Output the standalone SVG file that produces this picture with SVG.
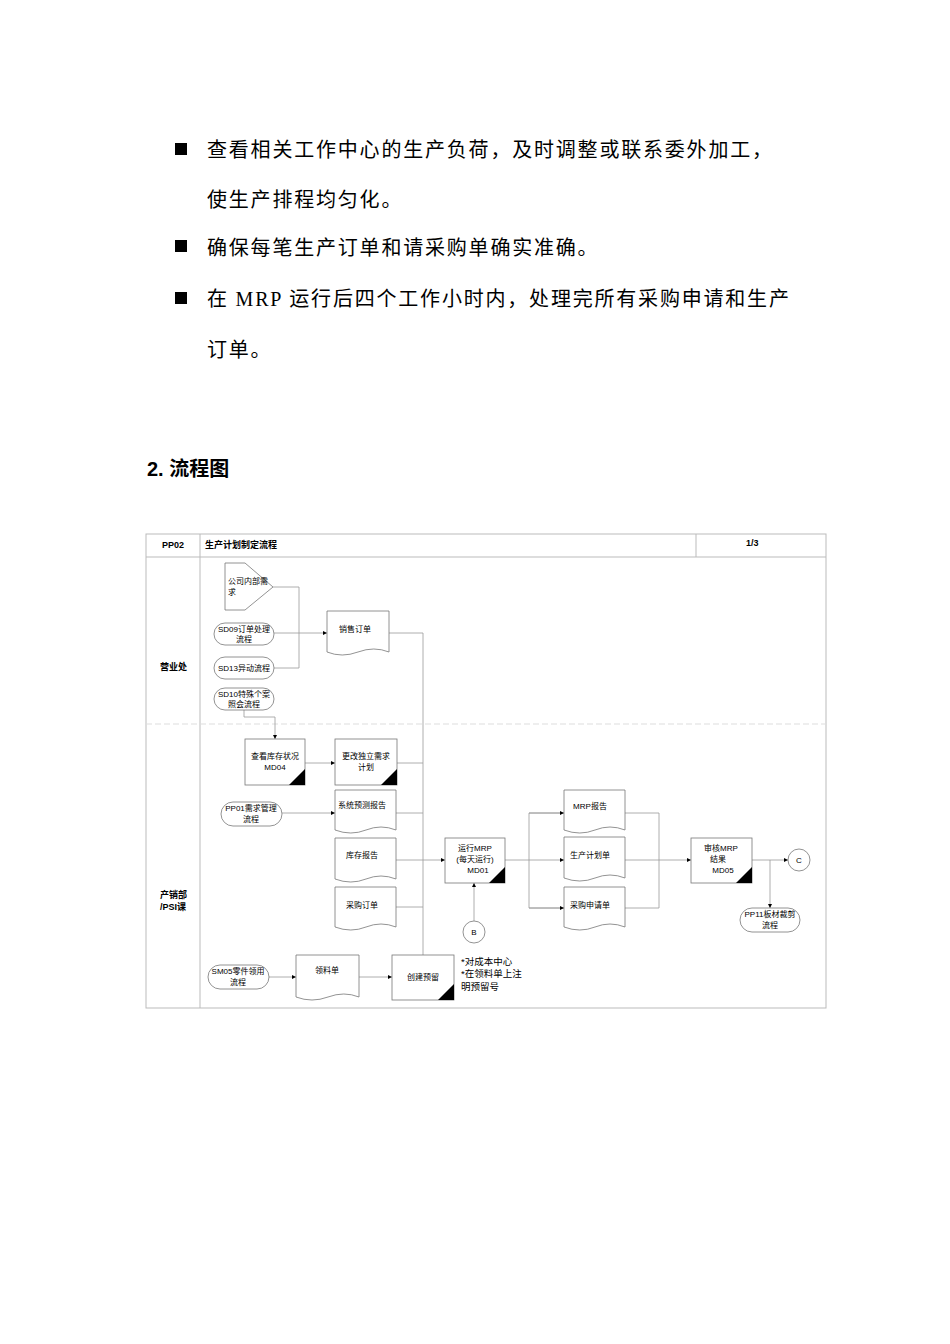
<svg xmlns="http://www.w3.org/2000/svg" width="950" height="1344" viewBox="0 0 950 1344">
<defs>
<marker id="ar" viewBox="0 0 6 6" refX="6" refY="3" markerWidth="5" markerHeight="5" orient="auto"><path d="M0,0L6,3L0,6z" fill="#000"/></marker>
<style>
.body{font-family:"Liberation Serif","Noto Sans CJK SC",serif;font-size:20px;letter-spacing:1.8px;fill:#000}
.t{font-family:"Liberation Sans","Noto Sans CJK SC",sans-serif;font-size:8px;fill:#000;text-anchor:middle}
.l{font-family:"Liberation Sans","Noto Sans CJK SC",sans-serif;font-size:8px;fill:#000;text-anchor:start}
.tb{font-family:"Liberation Sans","Noto Sans CJK SC",sans-serif;font-size:9px;font-weight:bold;fill:#000}
.s{fill:#fff;stroke:#777;stroke-width:0.8}
.c{fill:none;stroke:#999;stroke-width:0.8}
.ca{fill:none;stroke:#999;stroke-width:0.8;marker-end:url(#ar)}
.frame{fill:none;stroke:#bbb;stroke-width:1}
</style>
</defs>
<rect width="950" height="1344" fill="#fff"/>
<g id="text">
<rect x="175" y="143" width="12" height="12" fill="#000"/>
<text class="body" x="207" y="157">查看相关工作中心的生产负荷，及时调整或联系委外加工，</text>
<text class="body" x="207" y="207">使生产排程均匀化。</text>
<rect x="175" y="240" width="12" height="12" fill="#000"/>
<text class="body" x="207" y="255">确保每笔生产订单和请采购单确实准确。</text>
<rect x="175" y="292" width="12" height="12" fill="#000"/>
<text class="body" x="207" y="306">在 MRP 运行后四个工作小时内，处理完所有采购申请和生产</text>
<text class="body" x="207" y="357">订单。</text>
<text x="147" y="476" font-family="Liberation Sans,Noto Sans CJK SC,sans-serif" font-size="20" font-weight="bold">2. 流程图</text>
</g>
<g id="frame">
<rect class="frame" x="146" y="534" width="680" height="474"/>
<line class="frame" x1="146" y1="557" x2="826" y2="557"/>
<line class="frame" x1="200" y1="534" x2="200" y2="1008"/>
<line class="frame" x1="696" y1="534" x2="696" y2="557"/>
<line x1="146" y1="724" x2="830" y2="724" stroke="#ddd" stroke-width="1" stroke-dasharray="6,3"/>
<text class="tb" x="162" y="548">PP02</text>
<text class="tb" x="205" y="548">生产计划制定流程</text>
<text class="tb" x="746" y="546">1/3</text>
<text class="tb" x="160" y="670" font-size="8">营业处</text>
<text class="tb" x="160" y="898" font-size="8">产销部</text>
<text class="tb" x="160" y="910" font-size="8">/PSI课</text>
</g>
<g id="connectors">
<polyline class="c" points="273,587 299,587 299,668 274,668"/>
<line class="ca" x1="274" y1="633" x2="327" y2="633"/>
<polyline class="c" points="389,633 423,633 423,955"/>
<polyline class="ca" points="244,710 244,717 275,717 275,739"/>
<line class="ca" x1="305" y1="763" x2="335" y2="763"/>
<line class="c" x1="397" y1="763" x2="423" y2="763"/>
<line class="ca" x1="282" y1="813" x2="335" y2="813"/>
<line class="c" x1="396" y1="813" x2="423" y2="813"/>
<line class="c" x1="396" y1="860" x2="423" y2="860"/>
<line class="c" x1="396" y1="907" x2="423" y2="907"/>
<line class="ca" x1="423" y1="860" x2="445" y2="860"/>
<line class="ca" x1="269" y1="977" x2="296" y2="977"/>
<line class="ca" x1="359" y1="977" x2="392" y2="977"/>
<line class="ca" x1="474" y1="921" x2="474" y2="883"/>
<line class="c" x1="505" y1="860" x2="529" y2="860"/>
<polyline class="c" points="564,813 529,813 529,908 564,908"/>
<line class="ca" x1="529" y1="813" x2="564" y2="813"/>
<line class="ca" x1="529" y1="860" x2="564" y2="860"/>
<line class="ca" x1="529" y1="908" x2="564" y2="908"/>
<polyline class="c" points="625,813 659,813 659,908 625,908"/>
<line class="c" x1="625" y1="860" x2="659" y2="860"/>
<line class="ca" x1="659" y1="860" x2="691" y2="860"/>
<line class="ca" x1="752" y1="860" x2="788" y2="860"/>
<line class="ca" x1="770" y1="860" x2="770" y2="908"/>
</g>
<g id="n1"><polygon class="s" points="225,563 245,563 273,587 245,610 225,610"/><text class="l" x="228" y="584">公司内部需</text><text class="l" x="228" y="595">求</text></g>
<g id="n2"><rect class="s" x="214" y="623" width="60" height="22" rx="11"/><text class="t" x="244" y="632">SD09订单处理</text><text class="t" x="244" y="642">流程</text></g>
<g id="n3"><rect class="s" x="214" y="657" width="60" height="22" rx="11"/><text class="t" x="244" y="671">SD13异动流程</text></g>
<g id="n4"><rect class="s" x="214" y="688" width="60" height="22" rx="11"/><text class="t" x="244" y="697">SD10特殊个案</text><text class="t" x="244" y="707">照会流程</text></g>
<g id="n5"><path class="s" d="M327,611H389V652Q374,646 358,652T327,652Z"/><text class="t" x="355" y="632">销售订单</text></g>
<g id="n6"><rect class="s" x="245" y="739" width="60" height="46"/><polygon points="305,769 305,785 289,785" fill="#000"/><text class="t" x="275" y="759">查看库存状况</text><text class="t" x="275" y="770">MD04</text></g>
<g id="n7"><rect class="s" x="335" y="739" width="62" height="46"/><polygon points="397,769 397,785 381,785" fill="#000"/><text class="t" x="366" y="759">更改独立需求</text><text class="t" x="366" y="770">计划</text></g>
<g id="n8"><rect class="s" x="221" y="802" width="61" height="24" rx="12"/><text class="t" x="251" y="811">PP01需求管理</text><text class="t" x="251" y="822">流程</text></g>
<g id="n9"><path class="s" d="M335,790H396V830Q381,824 366,830T335,830Z"/><text class="t" x="362" y="808">系统预测报告</text></g>
<g id="n10"><path class="s" d="M335,838H396V879Q381,873 366,879T335,879Z"/><text class="t" x="362" y="858">库存报告</text></g>
<g id="n11"><path class="s" d="M335,887H396V927Q381,921 366,927T335,927Z"/><text class="t" x="362" y="908">采购订单</text></g>
<g id="n12"><rect class="s" x="208" y="965" width="61" height="24" rx="12"/><text class="t" x="238" y="974">SM05零件领用</text><text class="t" x="238" y="985">流程</text></g>
<g id="n13"><path class="s" d="M296,955H359V997Q344,991 328,997T296,997Z"/><text class="t" x="327" y="973">领料单</text></g>
<g id="n14"><rect class="s" x="392" y="955" width="62" height="45"/><polygon points="454,984 454,1000 438,1000" fill="#000"/><text class="t" x="423" y="980">创建预留</text></g>
<g id="n15"><text class="l" x="461" y="965" style="font-size:9.5px">*对成本中心</text><text class="l" x="461" y="977" style="font-size:9.5px">*在领料单上注</text><text class="l" x="461" y="990" style="font-size:9.5px">明预留号</text></g>
<g id="n16"><rect class="s" x="445" y="838" width="60" height="45"/><polygon points="505,867 505,883 489,883" fill="#000"/><text class="t" x="475" y="851">运行MRP</text><text class="t" x="475" y="862">(每天运行)</text><text class="t" x="478" y="873">MD01</text></g>
<g id="n17"><circle class="s" cx="474" cy="932" r="11"/><text class="t" x="474" y="935">B</text></g>
<g id="n18"><path class="s" d="M564,790H625V830Q610,824 595,830T564,830Z"/><text class="t" x="590" y="809">MRP报告</text></g>
<g id="n19"><path class="s" d="M564,837H625V878Q610,872 595,878T564,878Z"/><text class="t" x="590" y="858">生产计划单</text></g>
<g id="n20"><path class="s" d="M564,887H625V927Q610,921 595,927T564,927Z"/><text class="t" x="590" y="908">采购申请单</text></g>
<g id="n21"><rect class="s" x="691" y="838" width="61" height="45"/><polygon points="752,867 752,883 736,883" fill="#000"/><text class="t" x="721" y="851">审核MRP</text><text class="t" x="718" y="862">结果</text><text class="t" x="723" y="873">MD05</text></g>
<g id="n22"><circle class="s" cx="799" cy="860" r="11"/><text class="t" x="799" y="863">C</text></g>
<g id="n23"><rect class="s" x="740" y="908" width="60" height="24" rx="12"/><text class="t" x="770" y="917">PP11板材裁剪</text><text class="t" x="770" y="928">流程</text></g>
</svg>
